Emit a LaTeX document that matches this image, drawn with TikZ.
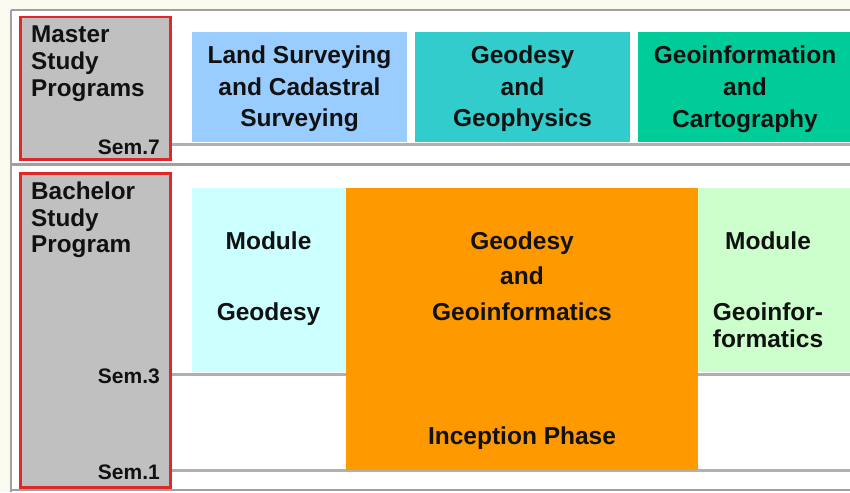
\documentclass[tikz,border=0pt]{standalone}
\usepackage{fontspec}
\setmainfont{Liberation Sans}
\definecolor{cream}{HTML}{FBFAF0}
\definecolor{framegray}{HTML}{A0A0A0}
\definecolor{linegray}{HTML}{B0B0B0}
\definecolor{labelgray}{HTML}{C0C0C0}
\definecolor{redframe}{HTML}{E0282A}
\definecolor{landblue}{HTML}{99CCFF}
\definecolor{geoteal}{HTML}{33CCCC}
\definecolor{geogreen}{HTML}{00CC99}
\definecolor{modcyan}{HTML}{CCFFFF}
\definecolor{phaseorange}{HTML}{FF9900}
\definecolor{modgreen}{HTML}{CCFFCC}
\definecolor{inktext}{HTML}{111111}
\begin{document}
\begin{tikzpicture}[x=1pt,y=-1pt,
  framebox/.style={draw=redframe, line width=2.5pt, fill=labelgray, inner sep=0pt, anchor=north west},
  fillbox/.style={draw=none, inner sep=0pt, anchor=north west},
  boxtext/.style={font=\fontsize{24.5}{31.5}\selectfont\bfseries, text=inktext, align=center, anchor=base, inner sep=0pt},
  progtext/.style={font=\fontsize{24.3}{26.5}\selectfont\bfseries, text=inktext, align=left, anchor=base west, inner sep=0pt},
  semtext/.style={font=\fontsize{21}{24}\selectfont\bfseries, text=inktext, anchor=base east, inner sep=0pt},
  semline/.style={draw=linegray, line width=3pt},
  frameline/.style={draw=framegray, line width=2.5pt}
]
\useasboundingbox (0,0) rectangle (850,492);
% background
\fill[cream] (0,0) rectangle (850,492);
\fill[white] (11,10) rectangle (850,492);

% coordinates for lines
\coordinate (tl) at (11,10);
\coordinate (tr) at (850,10);
\coordinate (bl) at (11,492);
\coordinate (sepl) at (11,164.5);
\coordinate (sepr) at (850,164.5);
\coordinate (botl) at (11,490);
\coordinate (botr) at (850,490);
\coordinate (s7r) at (850,144);
\coordinate (s3r) at (850,374);
\coordinate (s1r) at (850,470);

% frame
\draw[frameline] (tl) -- (tr);
\draw[frameline] (tl) -- (bl);
\draw[framegray, line width=3.5pt] (sepl) -- (sepr);
\draw[frameline] (botl) -- (botr);

% red label boxes
\node[framebox, minimum width=150pt, minimum height=142pt] (master) at (19,16) {};
\node[framebox, minimum width=150pt, minimum height=314pt] (bachelor) at (19,172) {};

% semester lines
\draw[semline] (master.east |- s7r) -- (s7r);
\draw[semline] (bachelor.east |- s3r) -- (s3r);
\draw[semline] (bachelor.east |- s1r) -- (s1r);

% master boxes
\node[fillbox, fill=landblue, minimum width=215pt, minimum height=110pt] (land) at (192,32) {};
\node[fillbox, fill=geoteal, minimum width=215pt, minimum height=110pt] (geophys) at (415,32) {};
\node[fillbox, fill=geogreen, minimum width=214pt, minimum height=110pt] (geoinfo) at (638,32) {};

% (anchor base = baseline of the last line)
\node[boxtext] (landT) at (299.5,126.5) {Land Surveying\\and Cadastral\\Surveying};
\node[boxtext] (geophysT) at (522.5,126.5) {Geodesy\\and\\Geophysics};
\node[boxtext] (geoinfoT) at (745,127) {Geoinformation\\and\\Cartography};

% bachelor boxes
\node[fillbox, fill=modcyan, minimum width=154pt, minimum height=184pt] (modgeo) at (192,188) {};
\node[fillbox, fill=modgreen, minimum width=152pt, minimum height=184pt] (modinf) at (698,188) {};
\node[fillbox, fill=phaseorange, minimum width=352pt, minimum height=282pt] (phase) at (346,188) {};

\node[boxtext] (modgeoT) at (268.5,320) {Module\\[39.5pt]Geodesy};
\node[boxtext] (phaseT) at (522,320) {Geodesy\\[3.5pt]and\\[4.5pt]Geoinformatics};
\node[boxtext, font=\fontsize{24.5}{27}\selectfont\bfseries] (modinfT) at (768,347) {Module\\[44pt]Geoinfor-\\formatics};
\node[boxtext] (inceptT) at (522,444) {Inception Phase};

% labels
\node[progtext] (masterT) at (31,96) {Master\\Study\\Programs};
\node[progtext] (bachelorT) at (31,252.5) {Bachelor\\Study\\Program};
\node[semtext] (sem7) at (160,154) {Sem.7};
\node[semtext] (sem3) at (160,383) {Sem.3};
\node[semtext] (sem1) at (160,479) {Sem.1};
\end{tikzpicture}
\end{document}
